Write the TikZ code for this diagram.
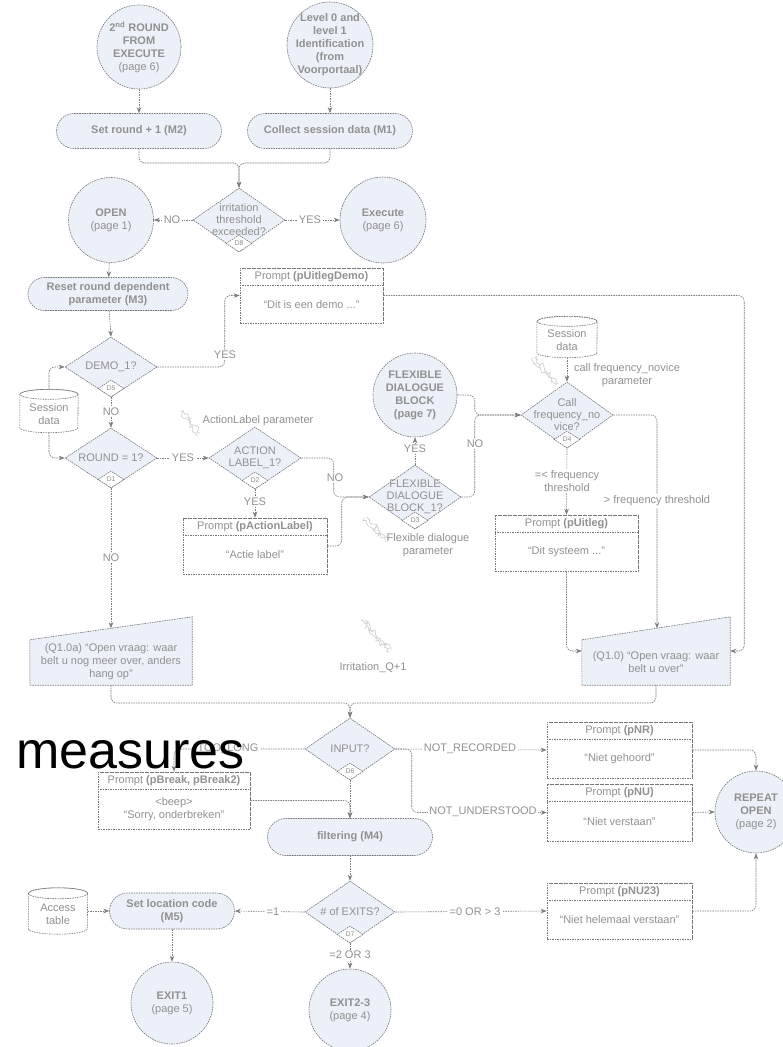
\documentclass[tikz,border=0pt]{standalone}
\usepackage{fontspec}
\newfontfamily\diagfam{Liberation Sans}
\newfontfamily\bigfam{Liberation Sans}
\usetikzlibrary{shapes.geometric,shapes.misc,arrows.meta,calc,decorations.pathmorphing}
\definecolor{fillc}{RGB}{236,240,248}
\definecolor{bordc}{RGB}{118,118,118}
\definecolor{linec}{RGB}{125,125,125}
\definecolor{txtc}{RGB}{145,145,145}
\newcommand{\dfont}{\diagfam\fontsize{11}{13}\selectfont}
\newcommand{\dfontd}{\diagfam\fontsize{11}{12}\selectfont}
\newcommand{\drawcyl}[3]{%
  \path[brd,fill=white] ($(#1.north west)+(0,#3)$) -- ($(#1.south west)+(0,-#3)$)
    arc[start angle=180,end angle=0,x radius=#2,y radius=#3]
    -- ($(#1.north east)+(0,#3)$)
    arc[start angle=0,end angle=-180,x radius=#2,y radius=#3] -- cycle;
  \draw[brd] ($(#1.north)+(0,#3)$) ellipse[x radius=#2,y radius=#3];}
\begin{document}
\begin{tikzpicture}[x=1pt,y=-1pt,
  base/.style={font=\dfont, text=txtc},
  brd/.style={draw=bordc, line width=0.6pt, dash pattern=on 1.6pt off 0.9pt},
  circ/.style={brd,circle,fill=fillc,inner sep=0pt},
  term/.style={base,brd,rounded rectangle,fill=fillc,inner sep=0pt,align=center,font=\dfont\bfseries},
  dia/.style={brd,diamond,fill=fillc,inner sep=0pt},
  dtag/.style={brd,diamond,fill=white,inner sep=0pt,minimum width=26pt,minimum height=17pt,font=\diagfam\fontsize{7}{8}\selectfont,text=txtc,anchor=south},
  pbox/.style={brd,rectangle,fill=white,inner sep=0pt},
  inv/.style={rectangle,inner sep=0pt},
  txt/.style={base,align=center,inner sep=0pt},
  dtxt/.style={txt,font=\dfontd},
  lbl/.style={base,fill=white,inner sep=1.5pt,align=center},
  conn/.style={draw=linec,line width=0.6pt,dash pattern=on 1.6pt off 0.9pt,rounded corners=6pt,-{Stealth[length=6pt,width=4.5pt]}},
  wrench/.style={line width=0.7pt,draw=black!18,decorate,decoration={random steps,segment length=2pt,amplitude=2.5pt}},
]
\fill[white] (0,0) rectangle (782,1047);
\useasboundingbox (0,0) rectangle (782,1047);

% ---------- circles ----------
\node[circ,minimum size=84pt] (c1) at (139,47) {};
\node[txt] (c1t) at (c1) {\textbf{2\textsuperscript{nd} ROUND}\\\textbf{FROM}\\\textbf{EXECUTE}\\(page 6)};
\node[circ,minimum size=86pt] (c2) at (330,45) {};
\node[txt] (c2t) at (c2) {\textbf{Level 0 and}\\\textbf{level 1}\\\textbf{Identification}\\\textbf{(from}\\\textbf{Voorportaal)}};
\node[circ,minimum size=85pt] (open) at (111,220) {};
\node[txt] (opent) at (open) {\textbf{OPEN}\\(page 1)};
\node[circ,minimum size=86pt] (exec) at (383,220) {};
\node[txt] (exect) at (exec) {\textbf{Execute}\\(page 6)};
\node[circ,minimum size=84pt] (flexc) at (415,395) {};
\node[txt] (flexct) at (flexc) {\textbf{FLEXIBLE}\\\textbf{DIALOGUE}\\\textbf{BLOCK}\\\textbf{(page 7)}};
\node[circ,minimum size=82pt] (rep) at (756,812) {};
\node[txt] (rept) at (rep) {\textbf{REPEAT}\\\textbf{OPEN}\\(page 2)};
\node[circ,minimum size=82pt] (exit1) at (172,1003) {};
\node[txt] (exit1t) at (exit1) {\textbf{EXIT1}\\(page 5)};
\node[circ,minimum size=82pt] (exit23) at (350,1010) {};
\node[txt] (exit23t) at (exit23) {\textbf{EXIT2-3}\\(page 4)};

% ---------- terminators ----------
\node[term,minimum width=165pt,minimum height=35pt] (m2) at (139,131) {Set round + 1 (M2)};
\node[term,minimum width=165pt,minimum height=35pt] (m1) at (330,131) {Collect session data (M1)};
\node[term,minimum width=160pt,minimum height=33pt] (m3) at (108,294) {Reset round dependent\\parameter (M3)};
\node[term,minimum width=165pt,minimum height=37pt] (filt) at (350,837) {filtering (M4)};
\node[term,minimum width=125pt,minimum height=36pt] (loc) at (172,911) {Set location code\\(M5)};

% ---------- diamonds ----------
\node[dia,minimum width=92pt,minimum height=64pt] (d8) at (239,220) {};
\node[dtxt] (d8t) at (d8) {irritation\\threshold\\exceeded?};
\node[dtag] (d8g) at (d8.south) {D8};
\node[dia,minimum width=92pt,minimum height=60pt] (demo) at (111,367) {};
\node[dtxt] (demot) at (demo) {DEMO\_1?};
\node[dtag] (demog) at (demo.south) {D5};
\node[dia,minimum width=92pt,minimum height=60pt] (round) at (111,458) {};
\node[dtxt] (roundt) at (round) {ROUND = 1?};
\node[dtag] (roundg) at (round.south) {D1};
\node[dia,minimum width=92pt,minimum height=62pt] (act) at (255,458) {};
\node[dtxt] (actt) at (act) {ACTION\\LABEL\_1?};
\node[dtag] (actg) at (act.south) {D2};
\node[dia,minimum width=92pt,minimum height=64pt] (flexd) at (415,497) {};
\node[dtxt] (flexdt) at (flexd) {FLEXIBLE\\DIALOGUE\\BLOCK\_1?};
\node[dtag] (flexdg) at (flexd.south) {D3};
\node[dia,minimum width=92pt,minimum height=66pt] (call) at (567,415) {};
\node[dtxt] (callt) at (call) {Call\\frequency\_no\\vice?};
\node[dtag] (callg) at (call.south) {D4};
\node[dia,minimum width=90pt,minimum height=62pt] (input) at (350,749) {};
\node[dtxt] (inputt) at (input) {INPUT?};
\node[dtag] (inputg) at (input.south) {D6};
\node[dia,minimum width=90pt,minimum height=62pt] (exits) at (350,912) {};
\node[dtxt] (exitst) at (exits) {\# of EXITS?};
\node[dtag] (exitsg) at (exits.south) {D7};

% ---------- prompt boxes ----------
\node[pbox,minimum width=143pt,minimum height=55pt] (pdemo) at (311.5,295.5) {};
\draw[brd] ($(pdemo.north west)+(0,18)$) -- ($(pdemo.north east)+(0,18)$);
\node[txt] (pdemoh) at ($(pdemo.north)+(0,9)$) {Prompt \textbf{(pUitlegDemo)}};
\node[txt] (pdemob) at ($(pdemo.center)+(0,9)$) {“Dit is een demo ...”};

\node[pbox,minimum width=144pt,minimum height=56pt] (pal) at (255,546) {};
\draw[brd] ($(pal.north west)+(0,18)$) -- ($(pal.north east)+(0,18)$);
\node[txt] (palh) at ($(pal.north)+(0,9)$) {Prompt \textbf{(pActionLabel)}};
\node[txt] (palb) at ($(pal.center)+(0,9)$) {“Actie label”};

\node[pbox,minimum width=143pt,minimum height=56pt] (pu) at (566.5,543) {};
\draw[brd] ($(pu.north west)+(0,18)$) -- ($(pu.north east)+(0,18)$);
\node[txt] (puh) at ($(pu.north)+(0,9)$) {Prompt \textbf{(pUitleg)}};
\node[txt] (pub) at ($(pu.center)+(0,9)$) {“Dit systeem ...”};

\node[pbox,minimum width=152pt,minimum height=57pt] (pbreak) at (174,800.5) {};
\draw[brd] ($(pbreak.north west)+(0,18)$) -- ($(pbreak.north east)+(0,18)$);
\node[txt] (pbreakh) at ($(pbreak.north)+(0,9)$) {Prompt \textbf{(pBreak, pBreak2)}};
\node[txt] (pbreakb) at ($(pbreak.center)+(0,9)$) {<beep>\\“Sorry, onderbreken”};

\node[pbox,minimum width=145pt,minimum height=56pt] (pnr) at (619.5,750) {};
\draw[brd] ($(pnr.north west)+(0,18)$) -- ($(pnr.north east)+(0,18)$);
\node[txt] (pnrh) at ($(pnr.north)+(0,9)$) {Prompt \textbf{(pNR)}};
\node[txt] (pnrb) at ($(pnr.center)+(0,9)$) {“Niet gehoord”};

\node[pbox,minimum width=145pt,minimum height=57pt] (pnu) at (619.5,812.5) {};
\draw[brd] ($(pnu.north west)+(0,18)$) -- ($(pnu.north east)+(0,18)$);
\node[txt] (pnuh) at ($(pnu.north)+(0,9)$) {Prompt \textbf{(pNU)}};
\node[txt] (pnub) at ($(pnu.center)+(0,9)$) {“Niet verstaan”};

\node[pbox,minimum width=145pt,minimum height=56pt] (pnu23) at (619.5,911) {};
\draw[brd] ($(pnu23.north west)+(0,18)$) -- ($(pnu23.north east)+(0,18)$);
\node[txt] (pnu23h) at ($(pnu23.north)+(0,9)$) {Prompt \textbf{(pNU23)}};
\node[txt] (pnu23b) at ($(pnu23.center)+(0,9)$) {“Niet helemaal verstaan”};

% ---------- manual input shapes ----------
\node[inv,minimum width=162pt,minimum height=68pt] (q10a) at (111,651) {};
\path[brd,fill=fillc] (q10a.south west) -- (q10a.south east) -- (q10a.north east) -- ($(q10a.north west)+(0,23)$) -- cycle;
\node[txt] (q10at) at ($(q10a.center)+(0,11)$) {(Q1.0a) “Open vraag: waar\\belt u nog meer over, anders\\hang op”};
\coordinate (q10atop) at ($(q10a.north)+(0,11.5)$);

\node[inv,minimum width=148pt,minimum height=68pt] (q10) at (656,651) {};
\path[brd,fill=fillc] (q10.south west) -- (q10.south east) -- (q10.north east) -- ($(q10.north west)+(0,23)$) -- cycle;
\node[txt] (q10t) at ($(q10.center)+(0,11)$) {(Q1.0) “Open vraag: waar\\belt u over”};
\coordinate (q10top) at ($(q10.north)+(1,11.5)$);

% ---------- data stores ----------
\node[inv,minimum width=58pt,minimum height=43pt] (sd1) at (49,411) {};
\drawcyl{sd1}{29}{5}
\node[txt] (sd1t) at ($(sd1)+(0,3)$) {Session\\data};
\node[inv,minimum width=60pt,minimum height=41pt] (sd2) at (567,337) {};
\drawcyl{sd2}{30}{5}
\node[txt] (sd2t) at ($(sd2)+(0,3)$) {Session\\data};
\node[inv,minimum width=59pt,minimum height=46pt] (acc) at (58,911) {};
\drawcyl{acc}{29.5}{5.5}
\node[txt] (acct) at ($(acc)+(0,3)$) {Access\\table};

% ---------- annotations ----------
\draw[wrench] (180,411) -- (198,435);
\draw[wrench] (183,410) -- (200,433);
\draw[wrench] (364,518) -- (386,542);
\draw[wrench] (367,517) -- (388,540);
\draw[wrench] (531,358) -- (556,386);
\draw[wrench] (534,357) -- (558,384);
\draw[wrench] (361,621) -- (389,652);
\draw[wrench] (364,620) -- (391,650);
\node[txt] (alp) at (258,421) {ActionLabel parameter};
\node[txt] (fdp) at (428,545) {Flexible dialogue\\parameter};
\node[txt] (cfp) at (627,375) {call frequency\_novice\\parameter};
\node[txt] (irr) at (373,668) {Irritation\_Q+1};

% ---------- connectors ----------
\coordinate (j1) at (239,163);
\coordinate (j2) at (350,703);
\draw[conn] (c1) -- (m2);
\draw[conn] (c2) -- (m1);
\draw[conn] (m2.south) |- (j1) -- (d8.north);
\draw[conn] (m1.south) |- (j1) -- (d8.north);
\draw[conn] (d8.west) -- (open);
\draw[conn] (d8.east) -- (exec);
\draw[conn] (open) -- (m3);
\draw[conn] (m3) -- (demo.north);
\draw[conn] (demo.east) -| ($(pdemo.west)+(-15,0)$) -- (pdemo.west);
\draw[conn] (sd1.north) |- (demo.west);
\draw[conn] (sd1.south) |- (round.west);
\draw[conn] (demo.south) -- (round.north);
\draw[conn] (round.east) -- (act.west);
\draw[conn] (round.south) -- (q10atop);
\draw[conn] (act.south) -- (pal.north);
\draw[conn] (act.east) -| ($(flexd.west)+(-35,0)$) -- (flexd.west);
\draw[conn] (pal.east) -| ($(flexd.west)+(-27,0)$) -- (flexd.west);
\draw[conn] (flexd.north) -- (flexc);
\draw[conn] (flexd.east) -| ($(call.west)+(-46,0)$) -- (call.west);
\draw[conn] (flexc.east) -| ($(call.west)+(-46,0)$) -- (call.west);
\draw[conn] (sd2) -- (call.north);
\draw[conn] (call.south) -- (pu.north);
\draw[conn] (call.east) -| (q10top);
\draw[conn] (pdemo.east) -| ($(q10.east)+(14,0)$) -- (q10.east);
\draw[conn] (pu.south) |- (q10.west);
\draw[conn] (q10.south) |- (j2) -- (input.north);
\draw[conn] (q10a.south) |- (j2) -- (input.north);
\draw[conn] (input.west) -| (pbreak.north);
\draw[conn] (input.south) -- (filt.north);
\draw[conn] (pbreak.east) -| (filt.north);
\draw[conn] (input.east) -- (pnr.west);
\draw[conn] (input.east) -| ($(pnu.west)+(-135,0)$) -- (pnu.west);
\draw[conn] (pnr.east) -| (rep.north);
\draw[conn] (pnu.east) -- (rep.west);
\draw[conn] (pnu23.east) -| (rep.south);
\draw[conn] (filt.south) -- (exits.north);
\draw[conn] (exits.west) -- (loc.east);
\draw[conn] (acc.east) -- (loc.west);
\draw[conn] (loc.south) -- (exit1);
\draw[conn] (exits.south) -- (exit23);
\draw[conn] (exits.east) -- (pnu23.west);

% ---------- connector labels ----------
\node[lbl] (l1) at (172,220) {NO};
\node[lbl] (l2) at (310,220) {YES};
\node[lbl] (l3) at (225,355) {YES};
\node[lbl] (l4) at (111,412) {NO};
\node[lbl] (l5) at (183,458) {YES};
\node[lbl] (l6) at (255,502) {YES};
\node[lbl] (l7) at (335,478) {NO};
\node[lbl] (l8) at (415,449) {YES};
\node[lbl] (l9) at (475,444) {NO};
\node[lbl] (l10) at (111,558) {NO};
\node[lbl] (l11) at (567,481) {=< frequency\\threshold};
\node[lbl] (l12) at (657,501) {> frequency threshold};
\node[lbl] (l13) at (228,749) {TOO\_LONG};
\node[lbl] (l14) at (470,749) {NOT\_RECORDED};
\node[lbl] (l15) at (483,812) {NOT\_UNDERSTOOD};
\node[lbl] (l16) at (273,912) {=1};
\node[lbl] (l17) at (350,955) {=2 OR 3};
\node[lbl] (l18) at (475,912) {=0 OR > 3};

% ---------- overlay word ----------
\node[anchor=base west,inner sep=0pt,font=\bigfam\fontsize{52}{60}\selectfont,text=black] (meas) at (16,768) {measures};
\end{tikzpicture}
\end{document}
